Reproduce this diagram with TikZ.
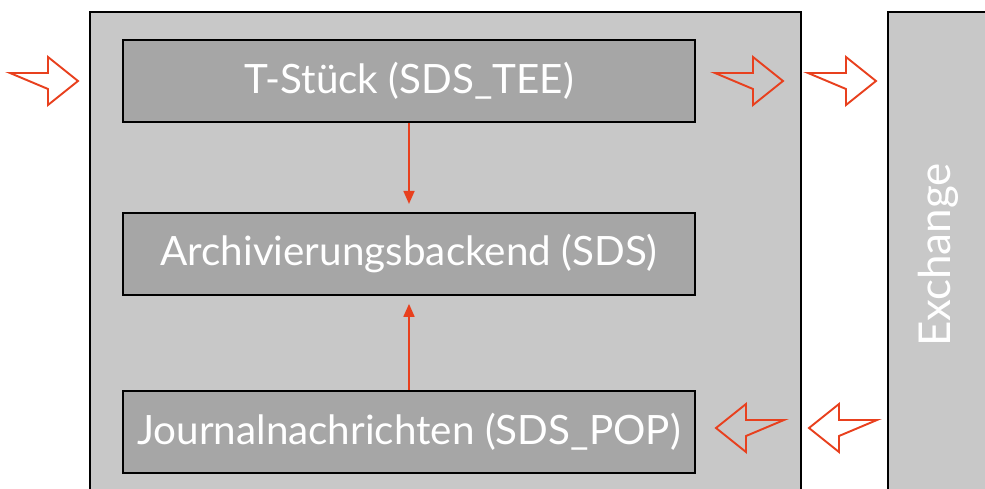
\documentclass[tikz,border=0pt]{standalone}
\usepackage{fontspec}
\setmainfont{Lato}
\usepackage{tikz}
\usetikzlibrary{arrows.meta,positioning}
\definecolor{frameback}{HTML}{C8C8C8}
\definecolor{boxback}{HTML}{A6A6A6}
\definecolor{flowred}{HTML}{E8401E}
\tikzset{
  sysbox/.style={draw=black,line width=1.1pt,fill=boxback,minimum width=11.44cm,minimum height=1.64cm,inner sep=0pt,text=white,font=\fontsize{23}{28}\selectfont},
  frame/.style={draw=black,line width=1.1pt,fill=frameback},
  flow/.style={-{Triangle[length=2.6mm,width=2.2mm]},line width=1pt,color=flowred,shorten >=1.6mm},
  blockline/.style={draw=flowred,line width=1.1pt,line join=miter},
}
\newcommand{\bigarrow}[2][1]{% [direction] {tail}
  \draw[blockline,shift={#2},xscale=#1] (0,-8) -- (38,-8) -- (38,-24) -- (68,0) -- (38,24) -- (38,8) -- cycle;}
\begin{document}
\begin{tikzpicture}[x=0.02cm,y=-0.02cm]
  \useasboundingbox (0,0) rectangle (985,489);
  \draw[frame] (90,12) rectangle (801,500);
  \draw[frame] (888,12) rectangle (1000,500);
  \node[sysbox] (tee) at (409,81) {T-Stück (SDS\_TEE)};
  \node[sysbox,below=1.78cm of tee] (sds) {Archivierungsbackend (SDS)};
  \node[sysbox,below=1.88cm of sds] (pop) {Journalnachrichten (SDS\_POP)};
  \node[text=white,font=\fontsize{25}{30}\selectfont,rotate=90,anchor=base] (exch) at (950,255) {Exchange};
  \draw[flow] (tee) -- (sds);
  \draw[flow] (pop) -- (sds);
  % block arrows in and out
  \bigarrow{(10,81)}
  \bigarrow{(715,81)}
  \bigarrow{(808,81)}
  \bigarrow[-1]{(784,428)}
  \bigarrow[-1]{(877,428)}
\end{tikzpicture}
\end{document}
